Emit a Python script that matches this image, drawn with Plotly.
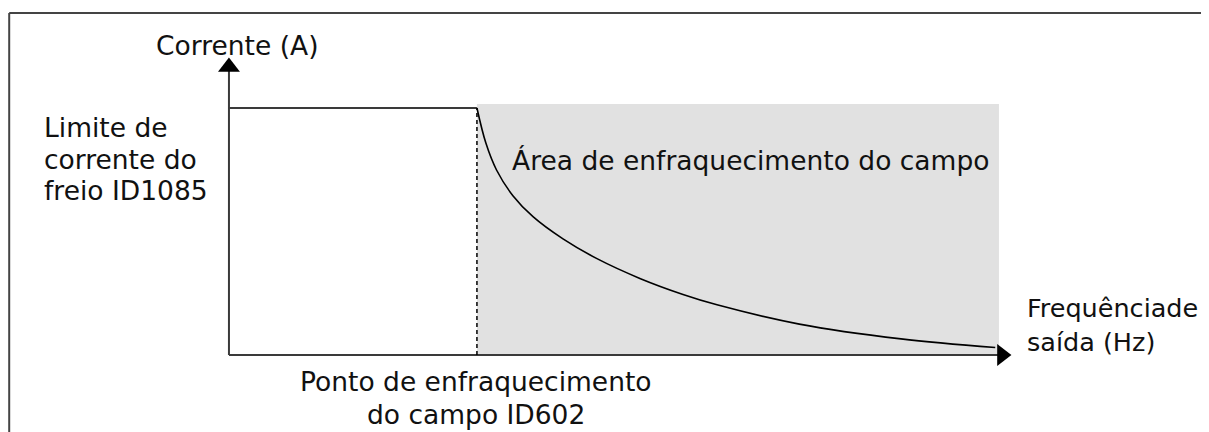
import plotly.graph_objects as go

# Eixos em unidades relativas: 0 = origem, 1 = ponto de enfraquecimento / limite de corrente
limit_x = [0, 1]
limit_y = [1, 1]

fw_x = [1.0, 1.036, 1.079, 1.145, 1.226, 1.347, 1.484, 1.657, 1.831, 1.968, 2.30, 2.71, 3.09]
fw_y = [1.0, 0.858, 0.749, 0.645, 0.56, 0.47, 0.39, 0.31, 0.245, 0.203, 0.125, 0.065, 0.03]

area_x = [1.0, 3.105]
area_top = 1.016

x_end = 3.117
y_end = 1.166

labels_left = ["Limite de", "corrente do", "freio ID1085"]
labels_left_y = [0.92, 0.792, 0.666]
labels_bottom = ["Ponto de enfraquecimento", "do campo ID602"]
labels_bottom_y = [-0.109, -0.243]
labels_right = ["Frequênciade", "saída (Hz)"]
labels_right_y = [0.190, 0.053]

AX = "#3a3a3a"
FONT = "DejaVu Sans"
FS = 26.5

fig = go.Figure()

# área de enfraquecimento (cinza)
fig.add_trace(go.Scatter(
    x=[area_x[0], area_x[1], area_x[1], area_x[0], area_x[0]],
    y=[0, 0, area_top, area_top, 0],
    fill="toself", fillcolor="#e1e1e1", line=dict(width=0), mode="lines",
    hoverinfo="skip"))

# eixos
fig.add_trace(go.Scatter(x=[0, 0], y=[0, y_end], mode="lines",
                         line=dict(color=AX, width=2)))
fig.add_trace(go.Scatter(x=[0, x_end], y=[0, 0], mode="lines",
                         line=dict(color=AX, width=2)))
fig.add_trace(go.Scatter(x=[0], y=[y_end], mode="markers",
                         marker=dict(symbol="triangle-up", size=19, color="black")))
fig.add_trace(go.Scatter(x=[x_end], y=[0], mode="markers",
                         marker=dict(symbol="triangle-right", size=19, color="black")))

# limite de corrente
fig.add_trace(go.Scatter(x=limit_x, y=limit_y, mode="lines",
                         line=dict(color=AX, width=2)))
# linha tracejada no ponto de enfraquecimento
fig.add_trace(go.Scatter(x=[1, 1], y=[0, 1], mode="lines",
                         line=dict(color="black", width=1.5, dash="4px,3px")))
# curva
fig.add_trace(go.Scatter(x=fw_x, y=fw_y, mode="lines",
                         line=dict(color="black", width=1.6, shape="spline")))

ann = []
ann.append(dict(x=0.032, y=1.255, text="Corrente (A)", xanchor="center"))
for t, yy in zip(labels_left, labels_left_y):
    ann.append(dict(x=-0.754, y=yy, text=t, xanchor="left"))
ann.append(dict(x=1.133, y=0.789, text="Área de enfraquecimento do campo", xanchor="left"))
for t, yy in zip(labels_right, labels_right_y):
    ann.append(dict(x=3.21, y=yy, text=t, xanchor="left", font_size=25.5))
for t, yy in zip(labels_bottom, labels_bottom_y):
    ann.append(dict(x=0.996, y=yy, text=t, xanchor="center"))
for a in ann:
    size = a.pop("font_size", FS)
    a.update(xref="x", yref="y", yanchor="middle", showarrow=False,
             font=dict(family=FONT, size=size, color="#111111"))

# page with 8px body margin: figure 1201x424
fig.update_layout(
    width=1201, height=424,
    margin=dict(l=0, r=0, t=0, b=0),
    paper_bgcolor="white", plot_bgcolor="white",
    showlegend=False,
    annotations=ann,
    xaxis=dict(range=[-0.891, 3.952], visible=False, fixedrange=True),
    yaxis=dict(range=[-0.312, 1.405], visible=False, fixedrange=True),
    shapes=[
        dict(type="line", xref="paper", yref="paper", x0=0.001, x1=1, y0=0.988, y1=0.988,
             line=dict(color="#444444", width=2)),
        dict(type="line", xref="paper", yref="paper", x0=0.001, x1=0.001, y0=0, y1=0.988,
             line=dict(color="#444444", width=2)),
    ],
)

fig.write_html("out.html")
